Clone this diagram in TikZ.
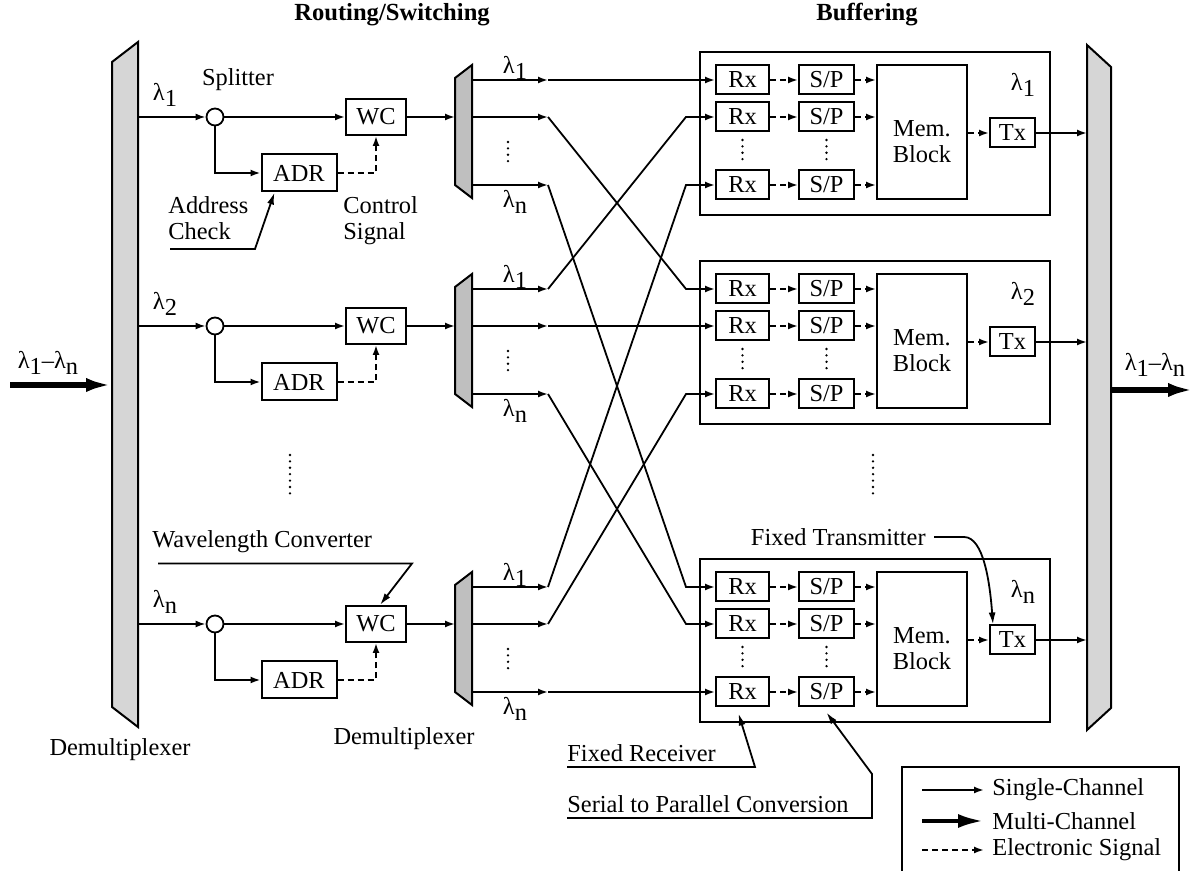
\documentclass[tikz,border=0pt]{standalone}
\usepackage{fontspec}
\setmainfont{Liberation Serif}
\usepackage{tikz}
\usetikzlibrary{arrows.meta, calc}

% wavelength with its index set low
\newcommand{\wl}[1]{λ\raisebox{-0.5ex}{#1}}

\begin{document}
\begin{tikzpicture}[x=0.5pt, y=-0.5pt]

% Text styles
\tikzset{txt/.style={font=\fontsize{12.2}{13}\selectfont, inner sep=1pt}}
\tikzset{hdr/.style={font=\fontsize{12.3}{14}\selectfont\bfseries}}

% Block styles
\tikzset{blk/.style={draw, line width=1pt, fill=white, inner sep=0pt, font=\fontsize{12.2}{13}\selectfont}}
\tikzset{wcB/.style={blk, minimum width=30pt, minimum height=18pt}}
\tikzset{adrB/.style={blk, minimum width=37.5pt, minimum height=18.5pt}}
\tikzset{rxB/.style={blk, minimum width=26.5pt, minimum height=14.5pt}}
\tikzset{spB/.style={blk, minimum width=27.5pt, minimum height=14.5pt}}
\tikzset{memB/.style={blk, minimum width=45pt, minimum height=67pt}}
\tikzset{txB/.style={blk, minimum width=22.5pt, minimum height=14.5pt}}
\tikzset{bufB/.style={draw, line width=1pt, minimum width=175pt, minimum height=81.5pt}}
\tikzset{splB/.style={draw, circle, line width=0.9pt, fill=white, minimum size=8.5pt, inner sep=0pt,
  path picture={\fill (path picture bounding box.center) circle (0.7pt);}}}
\tikzset{muxF/.style={draw, line width=1pt, fill=black!16}}

% Connector styles
\tikzset{sgl/.style={line width=0.9pt, -{Latex[length=5pt, width=3.5pt]}}}
\tikzset{mlt/.style={line width=2.6pt, -{Latex[length=13pt, width=7pt]}}}
\tikzset{elc/.style={line width=0.9pt, dash pattern=on 3pt off 2pt, -{Latex[length=5pt, width=3.5pt]}}}
\tikzset{ptr/.style={line width=0.9pt, -{Latex[length=6pt, width=3.5pt]}}}
\tikzset{dts/.style={line width=1.3pt, line cap=round, dash pattern=on 0pt off 3.2pt}}

\path[use as bounding box, fill=white] (0,0) rectangle (1196,871);

% Headings
\node (hRS) [hdr] at (392,15) {Routing/Switching};
\node (hBuf) [hdr] at (867,15) {Buffering};

% Input demultiplexer and output multiplexer
\draw[muxF] (112,62) -- (138,42) -- (138,727) -- (112,707) -- cycle;
\draw[muxF] (1087,45) -- (1111,67) -- (1111,708) -- (1087,730) -- cycle;

\coordinate (src) at (10,385);
\coordinate (dmxIn) at (112,385);
\coordinate (muxOut) at (1111,390);
\coordinate (dst) at (1194,390);
\draw[mlt] (src) -- (dmxIn);
\draw[mlt] (muxOut) -- (dst);
\node (inL) [txt] at (48,363) {\wl{1}–\wl{n}};
\node (outL) [txt] at (1155,365) {\wl{1}–\wl{n}};

% Routing rows: splitter, address check, converter, demultiplexer
\foreach \rw/\yo/\lb in {1/80/1, 2/289/2, 3/587/n} {
  \coordinate (tap\rw) at (138,\yo+37);
  \node (spl\rw) [splB] at (215,\yo+37) {};
  \node (wc\rw) [wcB] at (376,\yo+37) {WC};
  \node (adr\rw) [adrB] at (299,\yo+93) {ADR};
  \node (lam\rw) [txt] at (165,\yo+15) {\wl{\lb}};

  \draw[muxF, fill=black!25] (472,\yo-15) -- (455,\yo-2) -- (455,\yo+105) -- (472,\yo+118) -- cycle;
  \coordinate (dmi\rw) at (455,\yo+37);
  \coordinate (dm\rw-1) at (472,\yo);
  \coordinate (dm\rw-2) at (472,\yo+37);
  \coordinate (dm\rw-3) at (472,\yo+105);
  \node [txt] at (515,\yo-12) {\wl{1}};
  \node [txt] at (515,\yo+122) {\wl{n}};
  \draw[dts] (508,\yo+62) -- (508,\yo+84);

  \draw[sgl] (tap\rw) -- (spl\rw);
  \draw[sgl] (spl\rw) -- (wc\rw);
  \draw[sgl] (spl\rw) |- (adr\rw);
  \draw[elc] (adr\rw) -| (wc\rw);
  \draw[sgl] (wc\rw) -- (dmi\rw);
}
\draw[dts] (290,455) -- (290,497);

% Buffer blocks, one per wavelength
\foreach \bx/\yo/\lb in {1/80/1, 2/289/2, 3/587/n} {
  \node (buf\bx) [bufB] at (875,\yo+53.5) {};
  \node (rx\bx1) [rxB] at (742.5,\yo) {Rx};
  \node (rx\bx2) [rxB] at (742.5,\yo+37) {Rx};
  \node (rx\bx3) [rxB] at (742.5,\yo+105) {Rx};
  \node (sp\bx1) [spB] at (826.5,\yo) {S/P};
  \node (sp\bx2) [spB] at (826.5,\yo+37) {S/P};
  \node (sp\bx3) [spB] at (826.5,\yo+105) {S/P};
  \node (mem\bx) [memB, label={[txt, align=center, yshift=-5pt]center:Mem.\\Block}] at (922,\yo+52) {};
  \node (tx\bx) [txB] at (1012.5,\yo+53) {Tx};
  \node (bl\bx) [txt] at (1023,\yo+5) {\wl{\lb}};
  \draw[dts] (742.5,\yo+60) -- (742.5,\yo+82);
  \draw[dts] (826.5,\yo+60) -- (826.5,\yo+82);
  \coordinate (mx\bx) at (1087,\yo+53);

  \foreach \cn in {1,2,3} {
    \draw[elc] (rx\bx\cn) -- (sp\bx\cn);
    \draw[elc] (sp\bx\cn) -- (sp\bx\cn -| mem\bx.west);
  }
  \draw[elc] (tx\bx.west -| mem\bx.east) -- (tx\bx);
  \draw[sgl] (tx\bx) -- (mx\bx);
}
\draw[dts] (873,455) -- (873,498);

% Crossing fibres: row r, channel c goes to receiver r of block c
\foreach \rw in {1,2,3} {
  \foreach \cn in {1,2,3} {
    \coordinate (p\rw\cn) at ($(dm\rw-\cn)+(76,0)$);
    \draw[sgl] (dm\rw-\cn) -- (p\rw\cn);
    \draw[sgl] (p\rw\cn) -- ($(rx\cn\rw.west)+(-29,0)$) -- (rx\cn\rw.west);
  }
}

% Callouts
\node (splL) [txt] at (238,80) {Splitter};
\node (adrL) [txt, align=left, anchor=north west] at (166,194) {Address\\Check};
\draw[ptr] ($(adrL.south west)+(4,7)$) -- ++(85,0) -- ($(adr1.south west)+(14,0)$);
\node (ctlL) [txt, align=left, anchor=north west] at (341,194) {Control\\Signal};

\node (wlcL) [txt, anchor=west] at (150,542) {Wavelength Converter};
\draw[ptr] ($(wlcL.south west)+(8,8)$) -- ++(254,0) -- ($(wc3.north)+(4,0)$);

\node (demL) [txt] at (120,750) {Demultiplexer};
\node (demR) [txt] at (404,739) {Demultiplexer};

\node (ftxL) [txt, anchor=east] at (928,537) {Fixed Transmitter};
\draw[ptr] ($(ftxL.east)+(6,0)$) -- ++(30,0) .. controls +(20,0) and +(-3,-40) .. ($(tx3.north west)+(4,0)$);

\node (frxL) [txt, anchor=west] at (565,753) {Fixed Receiver};
\draw[ptr] ($(frxL.south west)+(2,3)$) -- ++(188,0) -- ($(rx33.south)+(-4,6)$);

\node (s2pL) [txt, anchor=west] at (565,804) {Serial to Parallel Conversion};
\draw[ptr] ($(s2pL.south west)+(2,3)$) -- ++(305,0) -- ++(0,-44) -- ($(sp33.south)+(0,5)$);

% Legend
\draw[line width=1pt] (902,767) rectangle (1179,880);
\node (lg1) [txt, anchor=west] at (990,790) {Single-Channel};
\node (lg2) [txt, anchor=west] at (990,821) {Multi-Channel};
\node (lg3) [txt, anchor=west] at (990,850) {Electronic Signal};
\draw[sgl] ($(lg1.west)+(-68,0)$) -- ($(lg1.west)+(-6,0)$);
\draw[mlt, line width=2.2pt] ($(lg2.west)+(-68,0)$) -- ($(lg2.west)+(-6,0)$);
\draw[elc] ($(lg3.west)+(-68,0)$) -- ($(lg3.west)+(-6,0)$);

\end{tikzpicture}
\end{document}
